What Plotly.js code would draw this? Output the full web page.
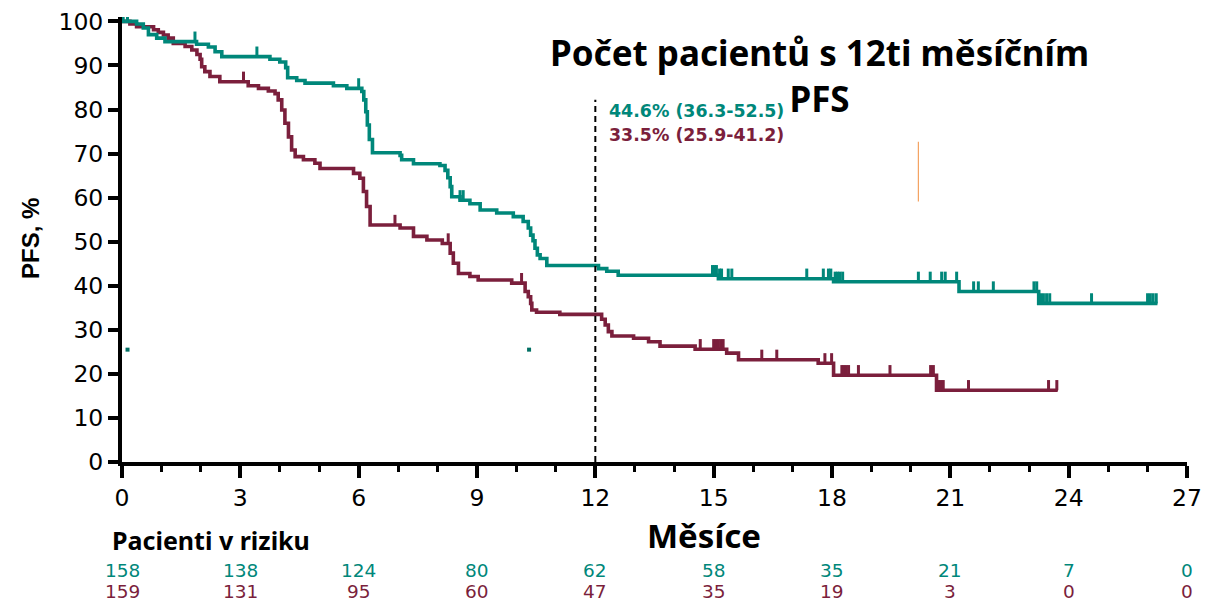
<!DOCTYPE html>
<html>
<head>
<meta charset="utf-8">
<script src="https://cdn.plot.ly/plotly-3.0.1.min.js"></script>
<style>
  html, body { margin: 0; padding: 0; background: #fff; }
  #chart { width: 1207px; height: 601px; }
</style>
</head>
<body>
<div id="chart"></div>
<script>
// Kaplan–Meier PFS curves (months, % progression-free)
const tealT = [0, 0.37, 0.54, 0.67, 0.88, 1.09, 1.89, 2.19, 2.36, 2.53, 3.75, 4.0, 4.15, 4.2, 4.43, 4.64, 5.36, 5.7,
  6.08, 6.13, 6.18, 6.22, 6.27, 6.35, 7.05, 7.09, 7.39, 8.06, 8.19, 8.26, 8.32, 8.36, 8.57, 8.82, 9.08, 9.5, 9.92,
  10.17, 10.3, 10.36, 10.42, 10.47, 10.53, 10.6, 10.77, 12.08, 12.29, 12.58, 15.12, 18.04, 21.22, 23.24, 26.25];
const tealS = [100, 99.4, 98.5, 97.0, 96.2, 95.4, 94.8, 94.2, 93.1, 92.0, 91.4, 90.8, 89.5, 87.2, 86.6, 86.0, 85.4, 84.8,
  84.1, 82.2, 79.5, 76.5, 73.2, 70.2, 69.6, 68.6, 67.7, 67.3, 66.2, 64.5, 62.5, 60.2, 59.4, 58.6, 57.2, 56.5, 55.7,
  54.6, 53.1, 51.5, 50.2, 48.5, 47.0, 46.2, 44.6, 43.9, 43.3, 42.4, 41.6, 40.9, 38.7, 36.0, 36.0];
const tealCensorT = [0.03, 0.14, 1.85, 3.42, 6.0, 8.57, 8.65, 14.97, 15.02, 15.07, 15.15, 15.2, 15.37, 15.46, 17.36,
  17.78, 17.91, 17.97, 18.08, 18.14, 18.2, 18.27, 20.19, 20.49, 20.78, 20.87, 21.16, 21.59, 21.71, 22.09,
  23.12, 23.19, 23.29, 23.36, 23.44, 23.52, 24.58, 26.0, 26.07, 26.14, 26.22];

const maroonT = [0, 0.2, 0.37, 0.8, 0.92, 1.05, 1.17, 1.3, 1.6, 1.77, 1.9, 1.98, 2.02, 2.1, 2.23, 2.48, 3.2, 3.46,
  3.71, 3.88, 3.96, 4.05, 4.13, 4.22, 4.3, 4.39, 4.6, 4.89, 5.02, 5.87, 6.03, 6.12, 6.2, 6.29, 7.05, 7.39, 7.73,
  8.12, 8.32, 8.4, 8.53, 8.82, 9.03, 9.88, 10.22, 10.3, 10.36, 10.39, 10.51, 11.1, 12.16, 12.25, 12.33, 12.42,
  12.97, 13.35, 13.64, 14.53, 15.33, 15.63, 17.65, 18.04, 20.65, 23.72];
const maroonS = [100, 99.4, 98.8, 98.1, 97.5, 96.9, 96.2, 95.0, 94.3, 93.5, 92.5, 91.4, 89.7, 88.6, 87.5, 86.3, 85.4, 84.8,
  84.2, 83.6, 82.2, 79.9, 76.9, 73.8, 70.8, 69.3, 68.6, 67.8, 66.6, 65.5, 64.4, 61.4, 58.0, 53.8, 53.1, 51.2, 50.4,
  49.6, 47.4, 45.1, 42.8, 42.1, 41.3, 40.6, 38.7, 37.5, 36.0, 34.5, 34.0, 33.5, 32.4, 31.1, 29.6, 28.6,
  28.1, 27.3, 26.3, 25.6, 24.7, 23.2, 22.4, 19.7, 16.3, 16.3];
const maroonCensorT = [3.08, 6.92, 8.27, 10.13, 14.66, 15.0, 15.06, 15.12, 15.18, 15.24, 16.22, 16.6, 17.82, 17.99,
  18.25, 18.3, 18.36, 18.42, 18.67, 19.47, 20.5, 20.57, 20.7, 20.76, 20.82, 21.46, 23.49, 23.7];

// Numbers at risk
const riskMonths = [0, 3, 6, 9, 12, 15, 18, 21, 24, 27];
const riskTeal = [158, 138, 124, 80, 62, 58, 35, 21, 7, 0];
const riskMaroon = [159, 131, 95, 60, 47, 35, 19, 3, 0, 0];

// 12-month landmark estimates
const landmarkMonth = 12;
const landmarkLineTop = 82.2;
const landmarkTeal = '44.6% (36.3-52.5)';
const landmarkMaroon = '33.5% (25.9-41.2)';

// Small isolated marks inside the plot
const dotT = [0.14, 10.32];
const dotY = [25.5, 25.5];
const orangeT = [20.19, 20.19];
const orangeY = [59.1, 72.7];

const TEAL = '#00877a';
const MAROON = '#7b1f3c';

function stepAt(T, S, t) {
  let v = S[0];
  for (let i = 0; i < T.length; i++) if (T[i] <= t) v = S[i];
  return v;
}

// plot area in pixels: x 122..1187, y 17..462
const L = 122, R = 20, TOP = 17, B = 139, W = 1207, H = 601;
const PW = W - L - R, PH = H - TOP - B;
const px2x = p => (p - L) / PW;
const py2y = p => (H - B - p) / PH;

function censorTrace(T, S, times, color) {
  return {
    x: times, y: times.map(t => stepAt(T, S, t)),
    mode: 'markers', type: 'scatter', hoverinfo: 'skip', cliponaxis: false,
    marker: { size: 2, color: color, symbol: 'square' },
    error_y: { type: 'constant', symmetric: false, value: 2.3, valueminus: 0, width: 0, thickness: 3, color: color }
  };
}

const traces = [
  { x: maroonT, y: maroonS, mode: 'lines', type: 'scatter', line: { shape: 'hv', color: MAROON, width: 3.6 }, hoverinfo: 'skip' },
  { x: tealT, y: tealS, mode: 'lines', type: 'scatter', line: { shape: 'hv', color: TEAL, width: 3.6 }, hoverinfo: 'skip' },
  censorTrace(maroonT, maroonS, maroonCensorT, MAROON),
  censorTrace(tealT, tealS, tealCensorT, TEAL),
  { x: dotT, y: dotY, mode: 'markers', type: 'scatter', marker: { size: 4, symbol: 'square', color: '#006f63' }, hoverinfo: 'skip' },
  { x: orangeT, y: orangeY, mode: 'lines', type: 'scatter', line: { color: '#f4a261', width: 1.2 }, hoverinfo: 'skip' }
];

const annotations = [
  { xref: 'paper', yref: 'paper', x: px2x(819), y: py2y(75), text: 'Počet pacientů s 12ti měsíčním<br>PFS',
    showarrow: false, xanchor: 'center', yanchor: 'middle', align: 'center',
    font: { family: 'Noto Sans', size: 35, color: '#000', weight: 700 } },
  { xref: 'x', yref: 'paper', x: landmarkMonth, xshift: 12, y: py2y(111), text: landmarkTeal,
    showarrow: false, xanchor: 'left', yanchor: 'middle', font: { family: 'DejaVu Sans', size: 17.4, color: TEAL, weight: 700 } },
  { xref: 'x', yref: 'paper', x: landmarkMonth, xshift: 12, y: py2y(135), text: landmarkMaroon,
    showarrow: false, xanchor: 'left', yanchor: 'middle', font: { family: 'DejaVu Sans', size: 17.4, color: MAROON, weight: 700 } },
  { xref: 'paper', yref: 'paper', x: px2x(31), y: py2y(239), text: 'PFS, %', textangle: -90,
    showarrow: false, xanchor: 'center', yanchor: 'middle', font: { family: 'Liberation Sans', size: 24, color: '#000', weight: 700 } },
  { xref: 'paper', yref: 'paper', x: px2x(704), y: py2y(535), text: 'Měsíce',
    showarrow: false, xanchor: 'center', yanchor: 'middle', font: { family: 'Noto Sans', size: 33, color: '#000', weight: 700 } },
  { xref: 'paper', yref: 'paper', x: px2x(110), y: py2y(540), text: 'Pacienti v riziku',
    showarrow: false, xanchor: 'left', yanchor: 'middle', font: { family: 'Noto Sans', size: 25, color: '#000', weight: 700 } }
];

riskMonths.forEach((m, i) => {
  annotations.push({ xref: 'x', yref: 'paper', x: m, y: py2y(570), text: String(riskTeal[i]), showarrow: false,
    xanchor: 'center', yanchor: 'middle', font: { family: 'DejaVu Sans', size: 18.5, color: TEAL } });
  annotations.push({ xref: 'x', yref: 'paper', x: m, y: py2y(591.5), text: String(riskMaroon[i]), showarrow: false,
    xanchor: 'center', yanchor: 'middle', font: { family: 'DejaVu Sans', size: 18.5, color: MAROON } });
});

const layout = {
  width: W, height: H,
  margin: { l: L, r: R, t: TOP, b: B, pad: 0 },
  paper_bgcolor: '#fff', plot_bgcolor: '#fff',
  showlegend: false,
  font: { family: 'DejaVu Sans', color: '#000' },
  xaxis: {
    range: [0, 27], tick0: 0, dtick: 3, ticks: 'outside', ticklen: 12, tickwidth: 4, tickcolor: '#000',
    showline: true, linewidth: 4, linecolor: '#000', showgrid: false, zeroline: false,
    tickfont: { family: 'DejaVu Sans', size: 23.5, color: '#000' },
    minor: { dtick: 1, ticks: 'outside', ticklen: 6, tickwidth: 3, tickcolor: '#000', showgrid: false },
    fixedrange: true
  },
  yaxis: {
    range: [0, 101], tick0: 0, dtick: 10, ticks: 'outside', ticklen: 10, tickwidth: 4, tickcolor: '#000',
    showline: true, linewidth: 4, linecolor: '#000', showgrid: false, zeroline: false,
    tickfont: { family: 'DejaVu Sans', size: 23.5, color: '#000' },
    fixedrange: true
  },
  shapes: [
    { type: 'line', xref: 'x', yref: 'y', x0: landmarkMonth, x1: landmarkMonth, y0: 0, y1: landmarkLineTop,
      line: { color: '#000', width: 2, dash: '6px,4px' } }
  ],
  annotations: annotations
};

Plotly.newPlot('chart', traces, layout, { staticPlot: true, displayModeBar: false });
</script>
</body>
</html>
